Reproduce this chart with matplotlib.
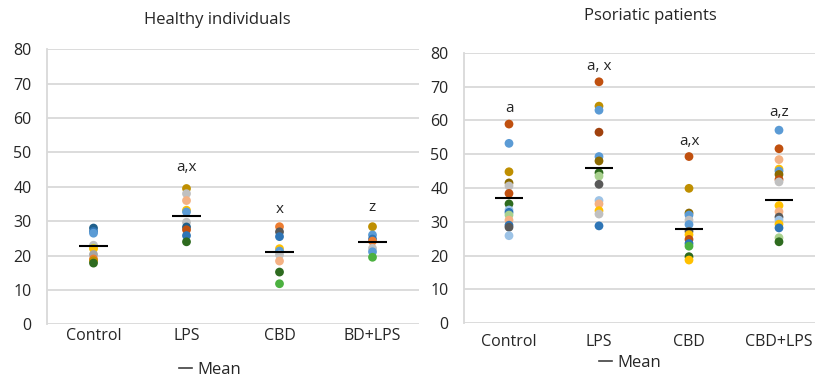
import matplotlib
matplotlib.use("Agg")
import matplotlib.pyplot as plt
from matplotlib.lines import Line2D

plt.rcParams['font.family'] = ['Open Sans', 'DejaVu Sans']

# ---------------- data ----------------
healthy_categories = ["Control", "LPS", "CBD", "BD+LPS"]
psoriatic_categories = ["Control", "LPS", "CBD", "CBD+LPS"]

healthy_control = [28.0, 27.0, 26.5, 23.0, 22.2, 22.0, 20.3, 19.0, 18.5, 17.8]
healthy_lps = [39.5, 38.0, 36.0, 33.2, 32.7, 29.7, 28.3, 27.5, 25.8, 24.0]
healthy_cbd = [28.4, 26.9, 25.5, 22.0, 21.3, 20.2, 18.4, 15.2, 11.8]
healthy_cbd_lps = [28.4, 26.0, 24.8, 24.2, 22.1, 21.1, 19.5]
healthy_means = [22.8, 31.4, 20.9, 24.0]
healthy_letters = ["", "a,x", "x", "z"]
healthy_letter_y = [0, 45.5, 33.3, 33.9]

psoriatic_control = [58.9, 53.2, 44.8, 41.5, 40.6, 38.4, 35.3, 33.5, 32.8, 32.0, 30.5, 29.0, 28.4, 25.9]
psoriatic_lps = [71.4, 64.2, 63.0, 56.5, 49.3, 48.0, 44.5, 43.5, 41.1, 36.3, 35.3, 33.3, 32.3, 28.8]
psoriatic_cbd = [49.3, 39.9, 32.6, 32.0, 30.5, 29.2, 27.2, 26.2, 24.8, 23.6, 22.8, 19.7, 18.7]
psoriatic_cbd_lps = [57.1, 51.6, 48.4, 45.6, 45.0, 44.0, 42.5, 41.8, 34.8, 33.0, 31.4, 30.5, 29.3, 28.2, 25.3, 24.1]
psoriatic_means = [37.0, 45.9, 27.9, 36.5]
psoriatic_letters = ["a", "a, x", "a,x", "a,z"]
psoriatic_letter_y = [63.5, 75.8, 53.6, 62.3]

# ---------------- colours ----------------
DB = '#1F5F8B'; B = '#2E75B6'; LB = '#5B9BD5'; SKY = '#9DC3E6'
OR = '#ED7D31'; LOR = '#F4B183'; BR = '#C0500F'; GOLD = '#BF8F00'
DGOLD = '#8C6A00'; Y = '#FFC000'; G = '#4CB140'; LG = '#A9D18E'
DG = '#2E6B1F'; GR = '#A5A5A5'; LGR = '#C0C0C0'; DGR = '#595959'

healthy_colors = [
    [DB, B, LB, LGR, LG, Y, GR, OR, GOLD, DG],
    [GOLD, LGR, LOR, Y, LB, LGR, DB, BR, B, DG],
    [OR, DGR, B, Y, LB, LGR, LOR, DG, G],
    [GOLD, LB, B, OR, LGR, LB, G],
]
psoriatic_colors = [
    [BR, LB, GOLD, DGOLD, LGR, BR, DG, SKY, B, LG, LOR, B, DGR, SKY],
    [BR, GOLD, LB, '#A0410D', LB, DGOLD, DG, LG, DGR, SKY, LOR, Y, LGR, B],
    [BR, GOLD, DGOLD, LB, LGR, LB, DGR, Y, BR, B, G, DG, Y],
    [LB, BR, LOR, Y, LB, DGOLD, BR, LGR, Y, LOR, DGR, SKY, Y, B, LG, DG],
]

fig = plt.figure(figsize=(8.15, 3.8), dpi=100)

GRID = '#D9D9D9'
TXT = '#262626'


def draw_panel(ax, cats, groups, colors, means, letters, letter_y, title, title_xy, label_pad, legend_xy):
    for i, (vals, cols) in enumerate(zip(groups, colors)):
        ax.scatter([i] * len(vals), vals, s=40, c=cols, edgecolors='none', zorder=3)
    ax.hlines(means, [i - 0.16 for i in range(len(means))], [i + 0.16 for i in range(len(means))],
              colors='black', linewidth=1.5, zorder=4)
    for i, (t, y) in enumerate(zip(letters, letter_y)):
        if t:
            ax.text(i, y, t, ha='center', va='center', fontsize=11, color=TXT)
    ax.set_xlim(-0.5, len(cats) - 0.5)
    ax.set_ylim(0, 80)
    ax.set_yticks(range(0, 81, 10))
    ax.set_xticks(range(len(cats)))
    ax.set_xticklabels(cats)
    ax.tick_params(axis='both', length=0, labelsize=11.5, colors=TXT)
    ax.tick_params(axis='y', pad=11)
    ax.tick_params(axis='x', pad=label_pad)
    ax.grid(axis='y', color=GRID, linewidth=1.3, zorder=0)
    for sp in ['top', 'right', 'bottom']:
        ax.spines[sp].set_visible(False)
    ax.spines['left'].set_color(GRID)
    ax.spines['left'].set_linewidth(1.3)
    ax.set_axisbelow(True)
    fig.text(title_xy[0], title_xy[1], title, ha='center', va='center', fontsize=12, color=TXT)
    h = Line2D([], [], color='#404040', linewidth=1.2)
    fig.legend([h], ["Mean"], loc='center', bbox_to_anchor=legend_xy, frameon=False,
               handlelength=0.8, handletextpad=0.3, fontsize=12, labelcolor=TXT)


ax1 = fig.add_axes([47 / 815, 1 - 324.3 / 380, 372 / 815, 275 / 380])
draw_panel(ax1, healthy_categories,
           [healthy_control, healthy_lps, healthy_cbd, healthy_cbd_lps],
           healthy_colors, healthy_means, healthy_letters, healthy_letter_y,
           "Healthy individuals", (217 / 815, 1 - 20 / 380), 3, (210 / 815, 1 - 370 / 380))

ax2 = fig.add_axes([464 / 815, 1 - 323.3 / 380, 360 / 815, 270.6 / 380])
draw_panel(ax2, psoriatic_categories,
           [psoriatic_control, psoriatic_lps, psoriatic_cbd, psoriatic_cbd_lps],
           psoriatic_colors, psoriatic_means, psoriatic_letters, psoriatic_letter_y,
           "Psoriatic patients", (650 / 815, 1 - 16 / 380), 8, (630 / 815, 1 - 363 / 380))

fig.savefig("out.png", dpi=100)
